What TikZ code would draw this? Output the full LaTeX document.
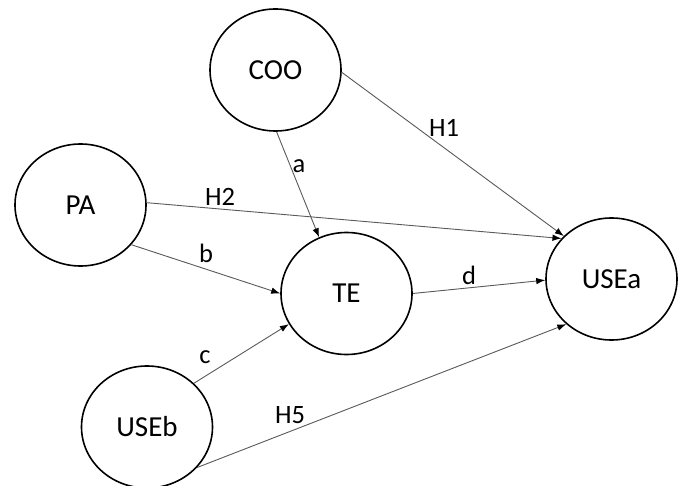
\documentclass[tikz,border=0pt]{standalone}
\usepackage{fontspec}
\setmainfont{Carlito}
\usetikzlibrary{shapes.geometric,arrows.meta}
\begin{document}
\begin{tikzpicture}[x=1pt,y=-1pt,
  var/.style={ellipse,draw=black,line width=1.6pt,minimum width=131pt,minimum height=122pt,inner sep=0pt,font=\fontsize{29}{32}\selectfont},
  link/.style={draw=black!65,line width=0.9pt,-{Latex[length=9pt,width=6.5pt,color=black]}},
  lab/.style={anchor=base,font=\fontsize{26.5}{29}\selectfont,inner sep=0pt}]
\useasboundingbox (0,0) rectangle (685,486);
\node[var] (COO) at (275.5,70) {COO};
\node[var] (PA) at (80.5,205) {PA};
\node[var] (TE) at (346.5,293.5) {TE};
\node[var] (USEa) at (611.5,279) {USEa};
\node[var] (USEb) at (147,427) {USEb};
\draw[link] (COO.-2) -- (USEa.138);
\draw[link] (COO.-89) -- (TE.116);
\draw[link] (PA.2) -- (USEa.141);
\draw[link] (PA.-38) -- (TE.180);
\draw[link] (TE.0) -- (USEa.181);
\draw[link] (USEb.43) -- (TE.208);
\draw[link] (USEb.-39) -- (USEa.225);
\node[lab] (lH1) at (444,137) {H1};
\node[lab] (la) at (299,173) {a};
\node[lab] (lH2) at (220,206) {H2};
\node[lab] (lb) at (206,263) {b};
\node[lab] (ld) at (469,284) {d};
\node[lab] (lc) at (205,363) {c};
\node[lab] (lH5) at (290,423) {H5};
\end{tikzpicture}
\end{document}
